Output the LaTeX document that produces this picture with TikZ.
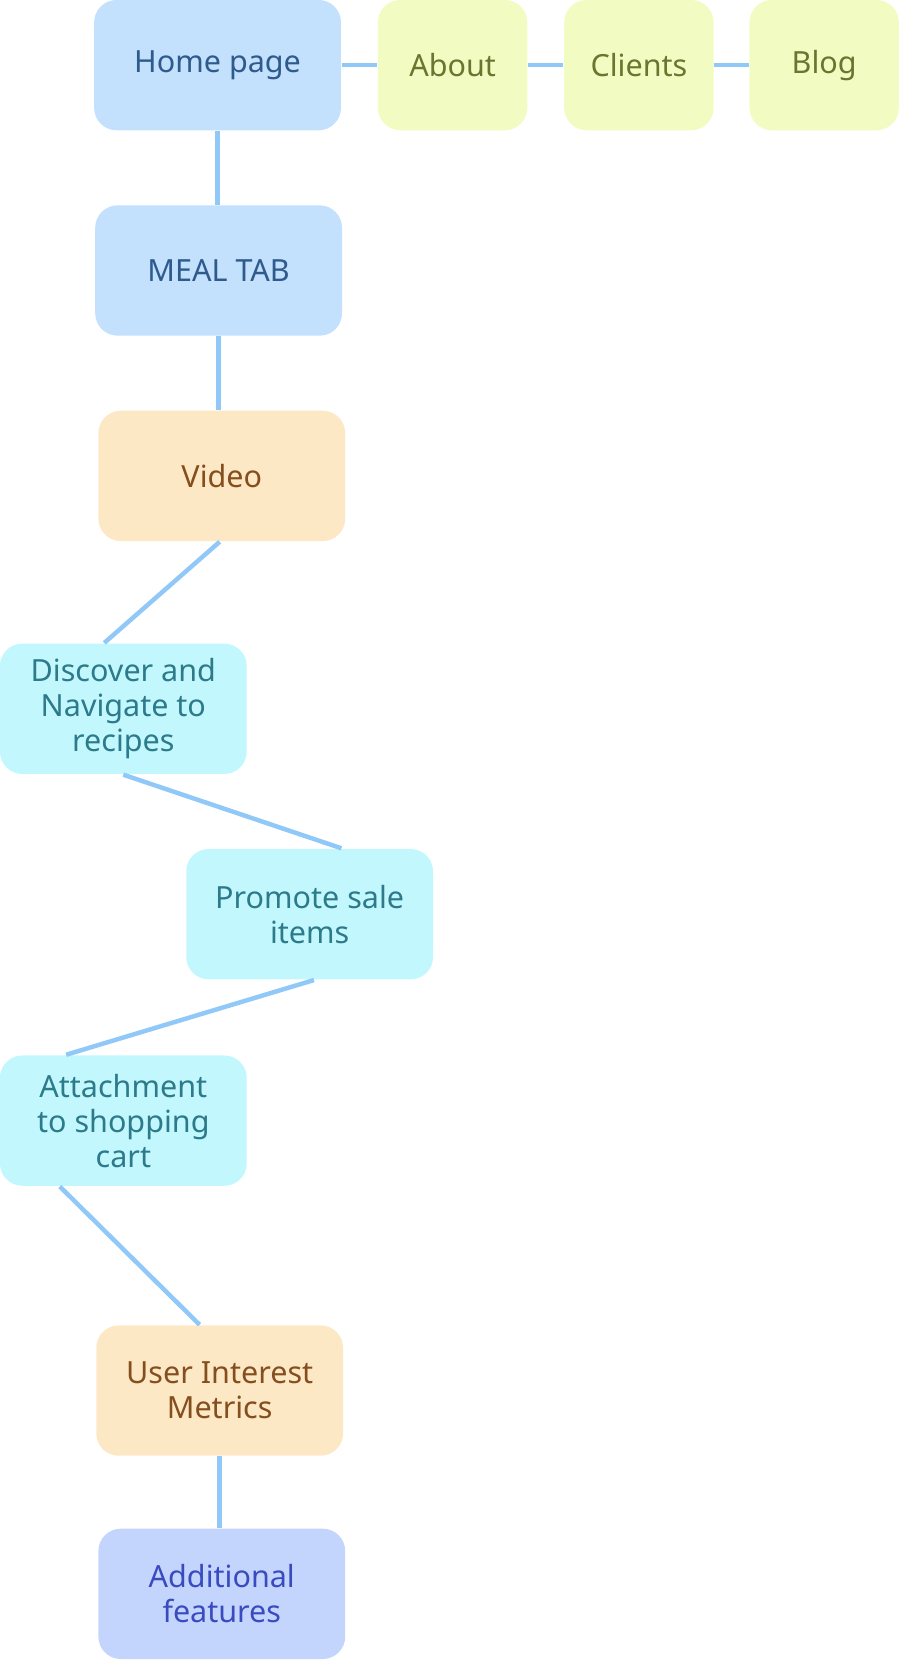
\documentclass[tikz,border=0pt]{standalone}
\usepackage{fontspec}
\setmainfont{Noto Sans}
\usetikzlibrary{calc}
\definecolor{linkblue}{HTML}{90C8F8}
\definecolor{homefill}{HTML}{C3E0FD}\definecolor{hometext}{HTML}{2F5A8C}
\definecolor{navfill}{HTML}{F2FCC2}\definecolor{navtext}{HTML}{6B7530}
\definecolor{mediafill}{HTML}{FDE8C6}\definecolor{mediatext}{HTML}{844E1E}
\definecolor{stepfill}{HTML}{C2F8FD}\definecolor{steptext}{HTML}{2C7A8A}
\definecolor{extrafill}{HTML}{C4D5FD}\definecolor{extratext}{HTML}{3A4BC0}
\tikzset{
	box/.style={rounded corners=6pt, minimum width=2.33cm, minimum height=1.23cm, align=center, font=\fontsize{8.2}{9.4}\selectfont},
	home/.style={box, fill=homefill, text=hometext},
	nav/.style={box, fill=navfill, text=navtext, minimum width=1.41cm},
	media/.style={box, fill=mediafill, text=mediatext},
	task/.style={box, fill=stepfill, text=steptext},
	extra/.style={box, fill=extrafill, text=extratext},
	link/.style={draw=linkblue, line width=1.2pt}
}
\begin{document}
\begin{tikzpicture}[x=0.01cm, y=-0.01cm]
	\useasboundingbox (0,0) rectangle (850,1568);
	% --- top row ---
	\node[home] (home) at (205.5,61.5) {Home page};
	\node[nav] (about) at (427.5,61.5) {About};
	\node[nav] (clients) at (603.5,61.5) {Clients};
	\node[nav] (blog) at (778.5,61.5) {Blog};
	% --- flow ---
	\node[home] (meal) at (206.5,255.5) {MEAL TAB};
	\node[media] (video) at (209.5,449.5) {Video};
	\node[task] (discover) at (116.5,669.5) {Discover and\\Navigate to\\recipes};
	\node[task] (promote) at (292.5,863.5) {Promote sale\\items};
	\node[task] (attach) at (116.5,1058.5) {Attachment\\to shopping\\cart};
	\node[media] (interest) at (207.5,1313.5) {User Interest\\Metrics};
	\node[extra] (features) at (209.5,1505.5) {Additional\\features};

	\draw[link] (home) -- (about);
	\draw[link] (about) -- (clients);
	\draw[link] (clients) -- (blog);
	\draw[link] (home.south) -- (home.south |- meal.north);
	\draw[link] (meal.south) -- (meal.south |- video.north);
	\draw[link] ($(video.south)+(-2,0)$) -- ($(discover.north)+(-18,0)$);
	\draw[link] (discover.south) -- ($(promote.north)+(30,0)$);
	\draw[link] ($(promote.south)+(4,0)$) -- ($(attach.north)+(-54,0)$);
	\draw[link] ($(attach.south)+(-60,0)$) -- ($(interest.north)+(-19,0)$);
	\draw[link] (interest.south) -- (features.north -| interest.south);
\end{tikzpicture}
\end{document}
